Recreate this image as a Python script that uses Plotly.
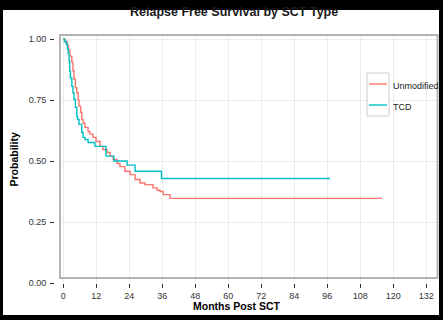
import plotly.graph_objects as go

# ---- data ----
title_text = "Relapse Free Survival by SCT Type"
x_title = "Months Post SCT"
y_title = "Probability"
series_names = ["Unmodified", "TCD"]

unmod_months = [0, 0.6, 1.4, 1.9, 2.4, 3.1, 3.5, 3.9, 4.4, 4.9, 5.4, 5.7, 6.3, 6.7, 7.2, 7.9,
                9.0, 9.7, 10.8, 11.9, 13.4, 14.4, 15.9, 17.0, 18.1, 19.5, 20.6, 22.4, 24.3,
                26.1, 27.9, 29.7, 32.6, 34.1, 35.2, 36.3, 38.8, 115.9]
unmod_surv = [1.0, 0.99, 0.975, 0.955, 0.93, 0.905, 0.87, 0.835, 0.80, 0.78, 0.75, 0.725, 0.70,
              0.67, 0.655, 0.638, 0.62, 0.61, 0.597, 0.58, 0.56, 0.547, 0.535, 0.52, 0.506,
              0.49, 0.477, 0.458, 0.444, 0.424, 0.41, 0.403, 0.39, 0.38, 0.375, 0.362, 0.347, 0.347]

tcd_months = [0, 0.4, 1.0, 1.5, 1.8, 2.1, 2.3, 2.6, 3.1, 3.5, 3.9, 4.4, 4.9, 5.2, 5.7, 6.7,
              7.2, 7.9, 9.0, 11.5, 15.5, 18.4, 23.2, 26.1, 35.7, 97.0]
tcd_surv = [1.0, 0.99, 0.98, 0.96, 0.94, 0.91, 0.868, 0.84, 0.806, 0.78, 0.753, 0.72, 0.683,
            0.67, 0.65, 0.617, 0.597, 0.588, 0.576, 0.56, 0.52, 0.50, 0.483, 0.458, 0.428, 0.428]

x_ticks = list(range(0, 133, 12))
y_ticks = [0, 0.25, 0.5, 0.75, 1.0]
y_ticktext = ["0.00", "0.25", "0.50", "0.75", "1.00"]

colors = ["#F8766D", "#00BFC4"]

# ---- layout geometry (pixels) ----
W, H = 443, 320
L, R, T, B = 54, 438, 35, 283   # paper (margin) box


def xp(px):
    return (px - L) / (R - L)


def yp(py):
    return (B - py) / (B - T)


fig = go.Figure()
for name, xs, ys, c in [(series_names[0], unmod_months, unmod_surv, colors[0]),
                        (series_names[1], tcd_months, tcd_surv, colors[1])]:
    fig.add_trace(go.Scatter(x=xs, y=ys, mode="lines", name=name, showlegend=False,
                             line=dict(color=c, width=1.4, shape="hv")))

font_family = "Liberation Sans, Arial, sans-serif"

shapes = [
    # white figure area inside black border
    dict(type="rect", xref="paper", yref="paper", x0=xp(3), x1=xp(439),
         y0=yp(315), y1=yp(10), fillcolor="white", line=dict(width=0), layer="below"),
    # panel border
    dict(type="rect", xref="paper", yref="paper", x0=xp(60), x1=xp(437.5),
         y0=yp(278), y1=yp(35), fillcolor="rgba(0,0,0,0)",
         line=dict(color="#B3B3B3", width=2), layer="above"),
    # legend key box
    dict(type="rect", xref="paper", yref="paper", x0=xp(367), x1=xp(389),
         y0=yp(116), y1=yp(73), fillcolor="white",
         line=dict(color="#CCCCCC", width=1), layer="above"),
]
annotations = [
    dict(text="<b>" + title_text + "</b>", xref="paper", yref="paper",
         x=xp(234), y=yp(12), xanchor="center", yanchor="middle", showarrow=False,
         font=dict(size=12.5, color="#1a1a1a", family=font_family)),
    dict(text="<b>" + x_title + "</b>", xref="paper", yref="paper",
         x=xp(236), y=yp(306), xanchor="center", yanchor="middle", showarrow=False,
         font=dict(size=10.5, color="#000000", family=font_family)),
    dict(text="<b>" + y_title + "</b>", xref="paper", yref="paper",
         x=xp(13.5), y=yp(160), xanchor="center", yanchor="middle", showarrow=False,
         textangle=-90, font=dict(size=10.5, color="#000000", family=font_family)),
]

# legend (ggplot style keys)
key_y = [84, 105]
for name, c, ky in zip(series_names, colors, key_y):
    shapes.append(dict(type="line", xref="paper", yref="paper", x0=xp(369), x1=xp(387),
                       y0=yp(ky), y1=yp(ky), line=dict(color=c, width=1.4), layer="above"))
    annotations.append(dict(text=name, xref="paper", yref="paper", x=xp(391), y=yp(ky + 2),
                            xanchor="left", yanchor="middle", showarrow=False,
                            font=dict(size=9, color="#1a1a1a", family=font_family)))

fig.update_layout(
    width=W, height=H,
    margin=dict(l=L, r=W - R, t=T, b=H - B, pad=0, autoexpand=False),
    paper_bgcolor="black",
    plot_bgcolor="white",
    font=dict(family=font_family, color="#333333"),
    xaxis=dict(domain=[xp(60), 1], range=[-1.2, 136.25], tickvals=x_ticks,
               ticks="outside", ticklen=4, tickcolor="#333333", tickwidth=1,
               showgrid=True, gridcolor="#EBEBEB", gridwidth=1, zeroline=False,
               showline=False, tickfont=dict(size=9, color="#333333")),
    yaxis=dict(anchor="free", position=0, domain=[0, 1], range=[0, 1.0164],
               tickvals=y_ticks, ticktext=y_ticktext, ticks="outside", ticklen=4,
               tickcolor="#333333", tickwidth=1, showgrid=True, gridcolor="#EBEBEB",
               gridwidth=1, zeroline=False, showline=False, ticklabelstandoff=2,
               tickfont=dict(size=9, color="#333333")),
    showlegend=False,
    shapes=shapes,
    annotations=annotations,
)

fig.write_html("out.html", config={"displayModeBar": False},
               post_script="document.body.style.margin='0';document.body.style.overflow='hidden';")
